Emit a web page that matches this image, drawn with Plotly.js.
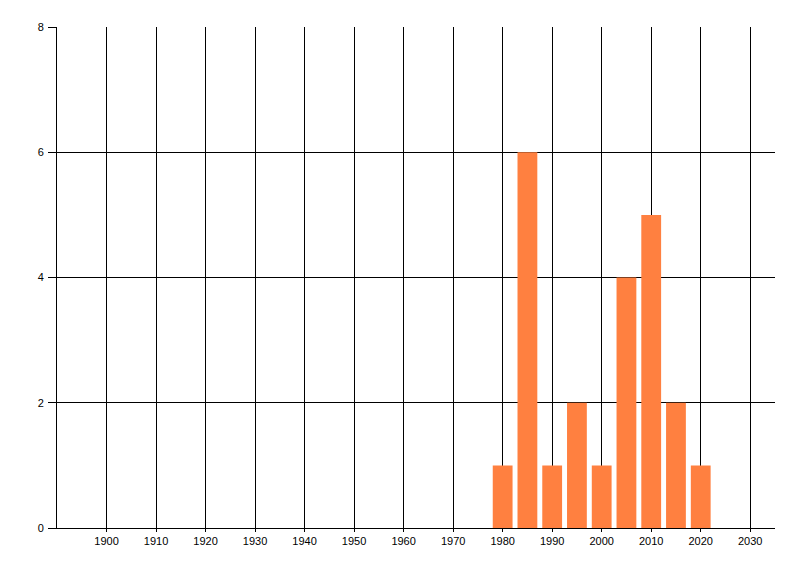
<!DOCTYPE html>
<html>
<head>
<meta charset="utf-8">
<script src="https://cdn.plot.ly/plotly-3.0.1.min.js"></script>
<style>
  html, body { margin: 0; padding: 0; background: #ffffff; }
  #graph { width: 800px; height: 576px; }
</style>
</head>
<body>
<div id="graph"></div>
<script>
"use strict";

// --- data ---
const years = [1980, 1985, 1990, 1995, 2000, 2005, 2010, 2015, 2020];
const counts = [1, 6, 1, 2, 1, 4, 5, 2, 1];
const xTickValues = [1900, 1910, 1920, 1930, 1940, 1950, 1960, 1970, 1980, 1990, 2000, 2010, 2020, 2030];
const xTickLabels = xTickValues.map(String);
const yTickValues = [0, 2, 4, 6, 8];

const traces = [{
    type: 'bar',
    x: years,
    y: counts,
    width: 4,
    marker: { color: '#ff8040', line: { width: 0 } },
    hoverinfo: 'x+y',
    showlegend: false
}];

const layout = {
    width: 800,
    height: 576,
    margin: { l: 57, r: 25, t: 27, b: 48 },
    paper_bgcolor: '#ffffff',
    plot_bgcolor: '#ffffff',
    font: { family: '"Liberation Sans", Arial, sans-serif', size: 11, color: '#000000' },
    showlegend: false,
    xaxis: {
        range: [1890, 2035],
        tickmode: 'array',
        tickvals: xTickValues,
        ticktext: xTickLabels,
        showgrid: true, gridcolor: '#000000', gridwidth: 1,
        showline: true, linecolor: '#000000', linewidth: 1,
        ticks: 'outside', ticklen: 3, tickcolor: '#000000',
        zeroline: false,
        fixedrange: true
    },
    yaxis: {
        range: [0, 8],
        tickmode: 'array',
        tickvals: yTickValues,
        showgrid: true, gridcolor: '#000000', gridwidth: 1,
        showline: true, linecolor: '#000000', linewidth: 1,
        ticks: 'outside', ticklen: 8, tickcolor: '#000000',
        ticklabelstandoff: 2,
        zeroline: false,
        fixedrange: true
    }
};

Plotly.newPlot('graph', traces, layout, { displayModeBar: false, staticPlot: true }).catch(err => {
    console.error("Grafik çizilirken hata:", err);
});
</script>
</body>
</html>
